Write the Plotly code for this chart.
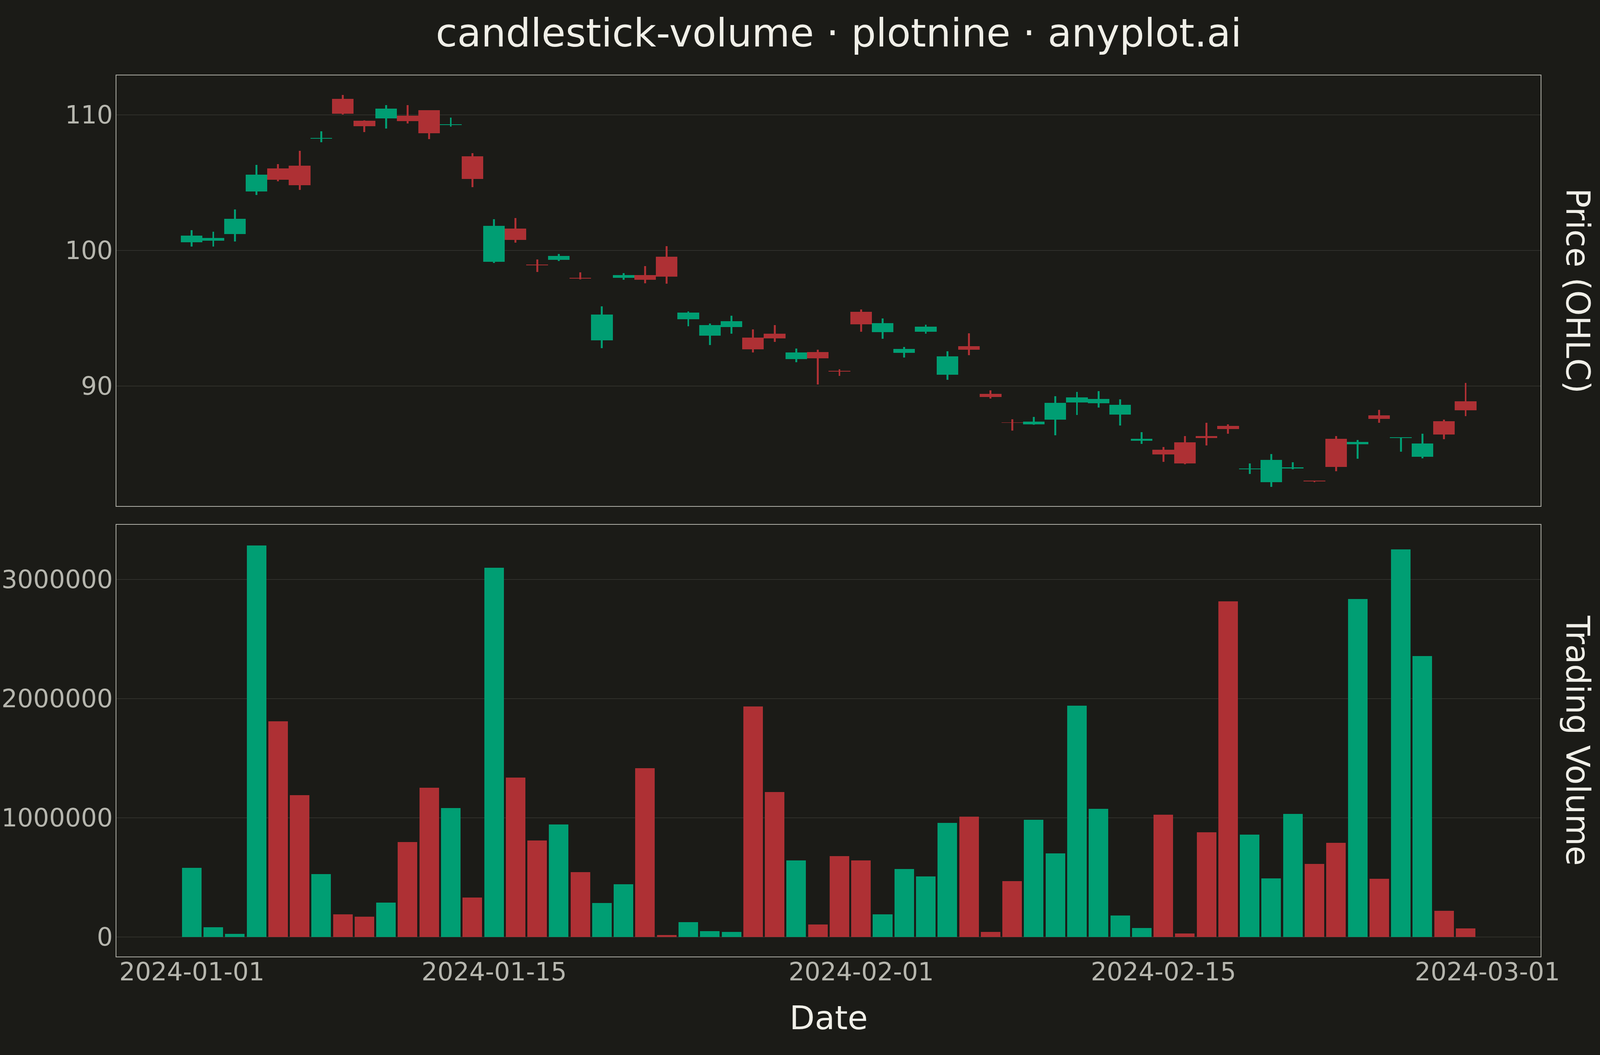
import pandas as pd
import plotly.graph_objects as go

# ---------------- data ----------------
dates = pd.date_range("2024-01-01", "2024-02-29", freq="D")

open_ = [100.61, 100.71, 101.20, 104.35, 106.06, 106.24, 108.25, 111.18, 109.57, 109.73,
         109.94, 110.33, 109.25, 106.94, 99.16, 101.61, 98.95, 99.29, 97.96, 93.37,
         97.98, 98.18, 99.53, 94.92, 93.71, 94.33, 93.57, 93.84, 91.98, 92.51,
         91.10, 95.47, 93.98, 92.45, 94.00, 90.84, 92.94, 89.41, 87.30, 87.16,
         87.51, 88.78, 88.73, 87.90, 85.96, 85.29, 85.84, 86.31, 87.06, 83.87,
         82.90, 83.93, 83.00, 86.10, 85.69, 87.84, 86.16, 84.76, 87.41, 88.88]
high = [101.49, 101.39, 103.02, 106.31, 106.37, 107.35, 108.80, 111.47, 109.59, 110.71,
        110.71, 110.35, 109.80, 107.18, 102.29, 102.39, 99.33, 99.73, 98.39, 95.88,
        98.31, 98.84, 100.31, 95.51, 94.61, 95.18, 94.18, 94.49, 92.76, 92.67,
        91.22, 95.65, 94.98, 92.86, 94.53, 92.55, 93.88, 89.67, 87.55, 87.71,
        89.24, 89.57, 89.61, 89.02, 86.59, 85.49, 86.29, 87.27, 87.16, 84.29,
        84.98, 84.37, 83.02, 86.29, 86.02, 88.24, 86.21, 86.47, 87.51, 90.22]
low = [100.29, 100.29, 100.65, 104.10, 105.10, 104.47, 107.98, 110.04, 108.73, 109.00,
       109.35, 108.22, 109.14, 104.67, 99.08, 100.57, 98.41, 99.22, 97.86, 92.80,
       97.82, 97.57, 97.55, 94.41, 93.02, 93.84, 92.47, 93.24, 91.76, 90.10,
       90.73, 94.00, 93.49, 92.10, 93.86, 90.45, 92.27, 89.08, 86.71, 87.14,
       86.37, 87.86, 88.41, 87.08, 85.73, 84.41, 84.22, 85.61, 86.47, 83.51,
       82.55, 83.86, 82.90, 83.71, 84.63, 87.27, 85.14, 84.65, 86.08, 87.78]
close = [101.10, 100.92, 102.33, 105.59, 105.22, 104.82, 108.30, 110.08, 109.16, 110.47,
         109.53, 108.65, 109.30, 105.27, 101.82, 100.78, 98.90, 99.59, 97.92, 95.27,
         98.18, 97.84, 98.06, 95.41, 94.49, 94.78, 92.71, 93.51, 92.47, 92.04,
         91.06, 94.55, 94.63, 92.73, 94.37, 92.18, 92.67, 89.18, 87.29, 87.37,
         88.76, 89.16, 89.04, 88.61, 86.10, 84.96, 84.27, 86.16, 86.82, 83.92,
         84.55, 83.98, 82.96, 84.02, 85.88, 87.57, 86.20, 85.76, 86.43, 88.20]
volume = [580000, 82000, 26000, 3286000, 1809000, 1191000, 527000, 190000, 171000, 288000,
          796000, 1254000, 1081000, 330000, 3099000, 1339000, 810000, 945000, 543000, 286000,
          442000, 1418000, 16000, 124000, 49000, 42000, 1935000, 1215000, 641000, 105000,
          679000, 641000, 190000, 569000, 508000, 957000, 1009000, 44000, 470000, 983000,
          700000, 1942000, 1074000, 180000, 75000, 1027000, 28000, 880000, 2818000, 859000,
          491000, 1032000, 613000, 789000, 2836000, 487000, 3251000, 2359000, 220000, 73000]

price_ticks = [90, 100, 110]
volume_ticks = [0, 1000000, 2000000, 3000000]
date_ticks = ["2024-01-01", "2024-01-15", "2024-02-01", "2024-02-15", "2024-03-01"]

# ---------------- style ----------------
W, H = 4800, 2700
BG = "#1b1b17"
UP = "#009e73"
DOWN = "#ae3034"
INK = "#f0efe8"
TICK = "#b6b6ae"
GRID = "#30302b"
FRAME = "#b0b0a8"
FONT = "DejaVu Sans"
DAY_MS = 86400000

colors = [UP if c >= o else DOWN for o, c in zip(open_, close)]
body_base = [min(o, c) for o, c in zip(open_, close)]
body_len = [abs(c - o) for o, c in zip(open_, close)]
wick_len = [h - l for h, l in zip(high, low)]

fig = go.Figure()

# wicks (high-low)
fig.add_trace(go.Bar(
    x=dates, y=wick_len, base=low, width=0.088 * DAY_MS,
    marker=dict(color=colors, line=dict(width=0)),
    xaxis="x2", yaxis="y", showlegend=False, hoverinfo="skip",
))
# bodies (open-close)
fig.add_trace(go.Bar(
    x=dates, y=body_len, base=body_base, width=1.0 * DAY_MS,
    marker=dict(color=colors, line=dict(width=0)),
    xaxis="x2", yaxis="y", showlegend=False,
))
# volume
fig.add_trace(go.Bar(
    x=dates, y=volume, width=0.905 * DAY_MS,
    marker=dict(color=colors, line=dict(width=0)),
    xaxis="x", yaxis="y2", showlegend=False,
))

x_range = ["2023-12-28 12:20", "2024-03-03 11:15"]
XD = [354 / W, 4678 / W]

axis_common = dict(
    showline=True, linecolor=FRAME, linewidth=2, mirror=True,
    zeroline=False, ticks="",
    tickfont=dict(family=FONT, size=64, color=TICK),
)

fig.update_layout(
    width=W, height=H,
    paper_bgcolor=BG, plot_bgcolor=BG,
    margin=dict(l=0, r=0, t=0, b=0),
    barmode="overlay", bargap=0,
    font=dict(family=FONT, color=INK),
    title=dict(
        text="candlestick-volume · plotnine · anyplot.ai",
        x=2516 / W, xanchor="center", y=1 - 84 / H, yanchor="middle",
        font=dict(family=FONT, size=100, color=INK),
    ),
    xaxis=dict(
        domain=XD, anchor="y2", type="date", range=x_range,
        tickvals=date_ticks, ticktext=date_ticks, showgrid=False,
        ticklabelstandoff=-18,
        **axis_common,
    ),
    xaxis2=dict(
        domain=XD, anchor="y", type="date", range=x_range, matches="x",
        showticklabels=False, showgrid=False,
        **axis_common,
    ),
    yaxis=dict(
        domain=[(H - 1295) / H, (H - 193) / H], anchor="x2",
        range=[81.14, 112.91], tickvals=price_ticks,
        showgrid=True, gridcolor=GRID, gridwidth=2,
        ticklabelstandoff=-5,
        **axis_common,
    ),
    yaxis2=dict(
        domain=[(H - 2448) / H, (H - 1343) / H], anchor="x",
        range=[-164000, 3459000], tickvals=volume_ticks, tickformat="d",
        showgrid=True, gridcolor=GRID, gridwidth=2,
        ticklabelstandoff=-5,
        **axis_common,
    ),
    annotations=[
        dict(text="Date", x=2516 / W, y=(H - 2605) / H, xref="paper", yref="paper",
             xanchor="center", yanchor="middle", showarrow=False,
             font=dict(family=FONT, size=84, color=INK)),
        dict(text="Price (OHLC)", x=1, xshift=42, y=(H - 744) / H, xref="paper", yref="paper",
             xanchor="right", yanchor="middle", textangle=90, showarrow=False,
             font=dict(family=FONT, size=83, color=INK)),
        dict(text="Trading Volume", x=1, xshift=42, y=(H - 1895.5) / H, xref="paper", yref="paper",
             xanchor="right", yanchor="middle", textangle=90, showarrow=False,
             font=dict(family=FONT, size=83, color=INK)),
    ],
)

# make the figure fill the browser viewport exactly (layout is in paper fractions)
fit_js = (
    "var gd=document.getElementById('{plot_id}');"
    "document.documentElement.style.margin='0';document.body.style.margin='0';"
    "document.documentElement.style.overflow='hidden';document.body.style.overflow='hidden';"
    "document.documentElement.style.background='%s';document.body.style.background='%s';"
    "var w=window.innerWidth, h=window.innerHeight;"
    "if(w>0 && h>0 && (w!==%d || h!==%d)){"
    "gd.style.width=w+'px';gd.style.height=h+'px';"
    "Plotly.relayout(gd,{width:w,height:h});}"
) % (BG, BG, W, H)

fig.write_html("out.html", post_script=fit_js, config={"displayModeBar": False})
